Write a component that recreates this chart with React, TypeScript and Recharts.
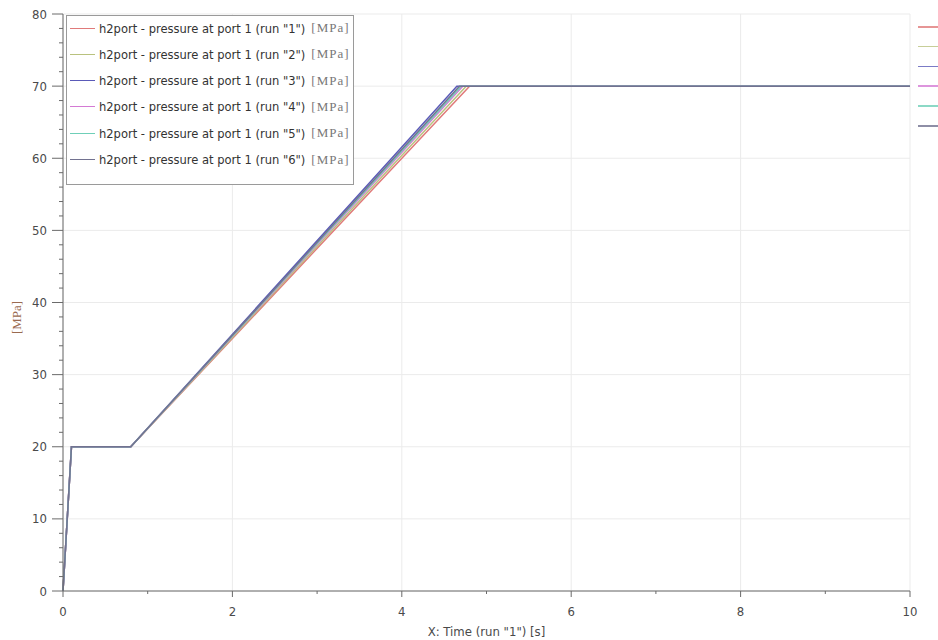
import React from 'react'
import { LineChart, Line, XAxis, YAxis, CartesianGrid, Label } from 'recharts'

// six simulation runs of the h2port pressure at port 1
const runNames = ['1', '2', '3', '4', '5', '6']
const runColors = ['#e07a7a', '#b9c27e', '#5a5ab8', '#d47ad4', '#6fcfb8', '#727290']

// breakpoints of each run: start, end of initial jump, start of ramp, end of ramp, end of sim [s]
const timeRun1 = [0, 0.1, 0.8, 4.8, 10]
const timeRun2 = [0, 0.1, 0.8, 4.76, 10]
const timeRun3 = [0, 0.1, 0.8, 4.65, 10]
const timeRun4 = [0, 0.1, 0.8, 4.72, 10]
const timeRun5 = [0, 0.1, 0.8, 4.7, 10]
const timeRun6 = [0, 0.1, 0.8, 4.68, 10]
const runTimes = [timeRun1, timeRun2, timeRun3, timeRun4, timeRun5, timeRun6]

// pressure at those breakpoints [MPa]
const pressure = [0, 20, 20, 70, 70]

const xTicks = [0, 1, 2, 3, 4, 5, 6, 7, 8, 9, 10]
const xMajor = [0, 2, 4, 6, 8, 10]
const yTicks = Array.from({ length: 41 }, (_, i) => i * 2)
const yMajor = [0, 10, 20, 30, 40, 50, 60, 70, 80]

const series = runNames.map((name, i) => ({
  name,
  color: runColors[i],
  data: runTimes[i].map((t, j) => ({ t, p: pressure[j] })),
}))

const sansFont = "'DejaVu Sans Condensed', 'DejaVu Sans', sans-serif"
const serifFont = "'Liberation Serif', 'DejaVu Serif', serif"
const axisColor = '#6a6a6a'
const labelColor = '#4a4a4a'

const YTick = (props: any) => {
  const { x, y, payload } = props
  const major = payload.value % 10 === 0
  return (
    <g>
      <line x1={x - (major ? 11 : 4)} x2={x} y1={y} y2={y} stroke={axisColor} />
      {major && (
        <text x={x - 16} y={y} dy={4.5} textAnchor="end" fontSize={13} fontFamily={sansFont} fill={labelColor}>
          {payload.value}
        </text>
      )}
    </g>
  )
}

const XTick = (props: any) => {
  const { x, y, payload } = props
  const major = payload.value % 2 === 0
  return (
    <g>
      <line x1={x} x2={x} y1={y} y2={y + (major ? 6 : 3)} stroke={axisColor} />
      {major && (
        <text x={x} y={y} dy={25} textAnchor="middle" fontSize={13} fontFamily={sansFont} fill={labelColor}>
          {payload.value}
        </text>
      )}
    </g>
  )
}

const XLabel = (props: any) => {
  const { x, y, width } = props.viewBox
  return (
    <text x={x + width / 2} y={y + 45} textAnchor="middle" fontSize={13} fontFamily={sansFont} fill={labelColor}>
      X: Time (run "1") [s]
    </text>
  )
}

const YLabel = (props: any) => {
  const { y, height } = props.viewBox
  const cx = 21
  const cy = y + height / 2 + 15
  return (
    <text x={cx} y={cy} transform={`rotate(-90 ${cx} ${cy})`} textAnchor="middle" fontSize={13}
      fontFamily={serifFont} fill="#9a6a50">
      [MPa]
    </text>
  )
}

function LegendBox() {
  return (
    <div style={{
      position: 'absolute', left: 66, top: 15, width: 288, height: 170,
      border: '1px solid #9a9a9a', background: '#fff', boxSizing: 'border-box',
    }}>
      {series.map((s, i) => (
        <div key={s.name} style={{
          position: 'absolute', left: 3, top: 3 + i * 26.3, height: 18,
          display: 'flex', alignItems: 'center', whiteSpace: 'nowrap',
        }}>
          <span style={{ display: 'inline-block', width: 25, height: 1, background: s.color, marginRight: 4 }} />
          <span style={{ fontFamily: sansFont, fontSize: 12.8, color: '#333' }}>
            h2port - pressure at port 1 (run "{s.name}")
          </span>
          <span style={{ fontFamily: serifFont, fontSize: 13, color: '#777', marginLeft: 6, letterSpacing: 1 }}>
            [MPa]
          </span>
        </div>
      ))}
    </div>
  )
}

// swatches of the second, clipped legend at the right edge
function SideSwatches() {
  return (
    <>
      {series.map((s, i) => (
        <div key={s.name} style={{
          position: 'absolute', left: 918, top: 26 + i * 19.8, width: 20, height: 1.5, background: s.color, opacity: 0.8,
        }} />
      ))}
    </>
  )
}

export default function App() {
  return (
    <div style={{ position: 'relative', width: 938, height: 640, background: '#fff', overflow: 'hidden' }}>
      <style>{'body{margin:0}'}</style>
      <LineChart width={938} height={640} margin={{ top: 14, right: 28, bottom: 0, left: 0 }}>
        <CartesianGrid stroke="#ebebeb" horizontalValues={yMajor} verticalValues={xMajor} />
        <XAxis type="number" dataKey="t" domain={[0, 10]} ticks={xTicks} interval={0} height={49}
          tick={<XTick />} tickLine={false} tickSize={0} tickMargin={0}
          axisLine={{ stroke: axisColor }} allowDuplicatedCategory={false}>
          <Label content={<XLabel />} />
        </XAxis>
        <YAxis type="number" domain={[0, 80]} ticks={yTicks} interval={0} width={63}
          tick={<YTick />} tickLine={false} tickSize={0} tickMargin={0}
          axisLine={{ stroke: axisColor }}>
          <Label content={<YLabel />} />
        </YAxis>
        {series.map((s) => (
          <Line key={s.name} data={s.data} dataKey="p" name={`run ${s.name}`} type="linear"
            stroke={s.color} strokeWidth={1.5} dot={false} activeDot={false} isAnimationActive={false} />
        ))}
      </LineChart>
      <LegendBox />
      <SideSwatches />
    </div>
  )
}
